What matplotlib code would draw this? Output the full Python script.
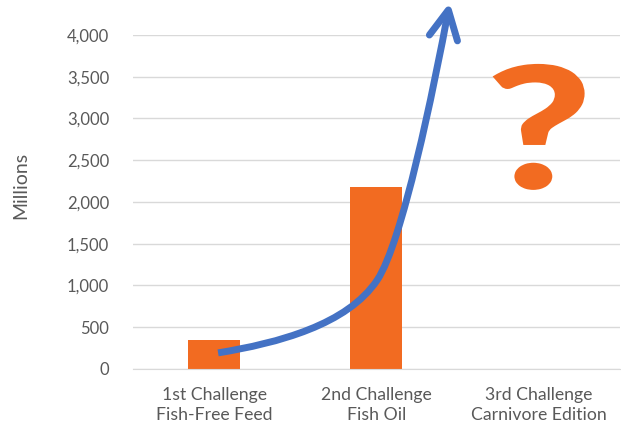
import matplotlib.pyplot as plt
from matplotlib.path import Path
from matplotlib.patches import PathPatch
from matplotlib.textpath import TextPath
from matplotlib.font_manager import FontProperties
from matplotlib.transforms import Affine2D, IdentityTransform

# data
categories = ["1st Challenge\nFish-Free Feed", "2nd Challenge\nFish Oil", "3rd Challenge\nCarnivore Edition"]
values = [350, 2180, 0]
y_ticks = [0, 500, 1000, 1500, 2000, 2500, 3000, 3500, 4000]

# blue "growth" arrow: two cubic bezier pieces (start, ctrl, ctrl, mid, ctrl, ctrl, end), data units
arrow_x = [0.025, 0.395, 0.821, 1.006, 1.160, 1.354, 1.444]
arrow_y = [192, 311, 527, 1066, 1515, 3357, 4299]

orange = "#F26B21"
blue = "#4472C4"
grey = "#595959"
DPI = 100

plt.rcParams["font.family"] = ["Lato", "DejaVu Sans"]

fig = plt.figure(figsize=(6.21, 4.26), dpi=DPI)
ax = fig.add_axes([0.214, 0.134, 0.784, 0.784])

x = list(range(len(categories)))
ax.bar(x[:2], values[:2], width=0.32, color=orange, zorder=2)

ax.set_xlim(-0.5, 2.5)
ax.set_ylim(0, 4000)
ax.set_yticks(y_ticks)
ax.set_yticklabels(["{:,}".format(v) for v in y_ticks])
ax.set_xticks(x)
ax.set_xticklabels(categories, linespacing=1.3, fontsize=12.7)
ax.tick_params(axis="both", length=0, colors=grey, labelsize=12)
ax.tick_params(axis="x", labelsize=12.7)
ax.tick_params(axis="y", pad=17)
ax.tick_params(axis="x", pad=13)
ax.grid(axis="y", color="#d9d9d9", linewidth=1, zorder=0)
for s in ["top", "right", "left"]:
    ax.spines[s].set_visible(False)
ax.spines["bottom"].set_color("#d9d9d9")
ax.set_ylabel("Millions", color=grey, fontsize=14)
ax.yaxis.set_label_coords(-0.212, 0.55)

pts = list(zip(arrow_x, arrow_y))
codes = [Path.MOVETO] + [Path.CURVE4] * (len(pts) - 1)
curve = PathPatch(Path(pts, codes), fill=False, edgecolor=blue, linewidth=5,
                  capstyle="butt", clip_on=False, zorder=3)
ax.add_patch(curve)

# open arrow head
tip = pts[-1]
ax.plot([tip[0] - 0.117, tip[0], tip[0] + 0.056], [tip[1] - 300, tip[1], tip[1] - 370],
        color=blue, linewidth=5, solid_capstyle="round", solid_joinstyle="round",
        clip_on=False, zorder=3)

# big question mark over the 3rd category, stretched to the reference box
qpath = TextPath((0, 0), "?", size=100, prop=FontProperties(family="Lato", weight="black"))
ext = qpath.get_extents()
cx, cy = ax.transData.transform((2, 2144))
sy = 126 / ext.height          # glyph ~126 px tall
sx = 92 / ext.width            # and ~92 px wide
qtrans = (Affine2D()
          .translate(-(ext.x0 + ext.x1) / 2, -ext.y0)
          .scale(sx, sy)
          .translate(cx, cy))
q = PathPatch(qpath, facecolor=orange, edgecolor="none", transform=qtrans + IdentityTransform(),
              clip_on=False, zorder=3)
ax.add_artist(q)

fig.savefig("out.png", dpi=DPI)
